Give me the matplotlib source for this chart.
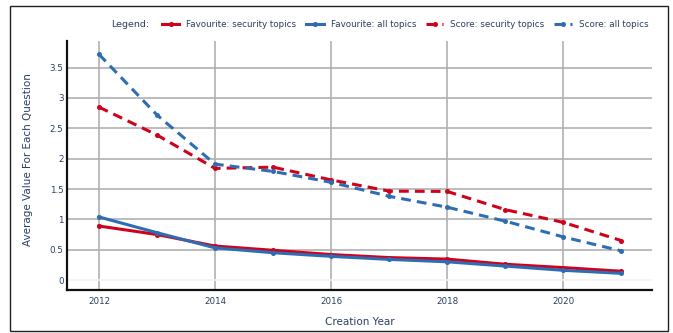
import matplotlib
matplotlib.use("Agg")
import matplotlib.pyplot as plt
from matplotlib.patches import Rectangle

years = [2012, 2013, 2014, 2015, 2016, 2017, 2018, 2019, 2020, 2021]
fav_security = [0.89, 0.75, 0.56, 0.49, 0.42, 0.37, 0.345, 0.26, 0.205, 0.145]
fav_all = [1.04, 0.78, 0.53, 0.45, 0.39, 0.34, 0.30, 0.23, 0.16, 0.11]
score_security = [2.85, 2.39, 1.84, 1.86, 1.65, 1.465, 1.46, 1.16, 0.95, 0.65]
score_all = [3.72, 2.72, 1.91, 1.79, 1.61, 1.38, 1.20, 0.97, 0.71, 0.48]

series_labels = ["Favourite: security topics", "Favourite: all topics",
                 "Score: security topics", "Score: all topics"]
x_ticks = [2012, 2014, 2016, 2018, 2020]
y_ticks = [0, 0.5, 1, 1.5, 2, 2.5, 3, 3.5]
y_tick_labels = ["0", "0.5", "1", "1.5", "2", "2.5", "3", "3.5"]

RED = "#d0021b"
BLUE = "#2e6db4"
TEXT = "#2a3f5f"

plt.rcParams["font.family"] = ["DejaVu Sans"]

fig = plt.figure(figsize=(6.73, 3.33), dpi=100)
ax = fig.add_axes([0.0996, 0.129, 0.8694, 0.748])

# outer frame around the whole figure
fig.patches.append(Rectangle((0.0156, 0.007), 0.9777, 0.975, transform=fig.transFigure,
                             fill=False, edgecolor="#222222", linewidth=1.0))

lw = 2.2
ms = 2.6
dashes = (3.2, 2.0)
h1, = ax.plot(years, fav_security, color=RED, lw=lw, marker="o", ms=ms, label=series_labels[0])
h2, = ax.plot(years, fav_all, color=BLUE, lw=lw, marker="o", ms=ms, label=series_labels[1])
h3, = ax.plot(years, score_security, color=RED, lw=lw, marker="o", ms=ms,
              dashes=dashes, label=series_labels[2])
h4, = ax.plot(years, score_all, color=BLUE, lw=lw, marker="o", ms=ms,
              dashes=dashes, label=series_labels[3])

ax.set_xlim(2011.45, 2021.53)
ax.set_ylim(-0.165, 3.94)
ax.set_xticks(x_ticks)
ax.set_xticklabels([str(t) for t in x_ticks])
ax.set_yticks(y_ticks)
ax.set_yticklabels(y_tick_labels)
ax.tick_params(length=0, labelsize=6.3, colors=TEXT)
ax.tick_params(axis="y", pad=2.5)
ax.tick_params(axis="x", pad=5)

ax.grid(True, color="#b0b0b0", linewidth=1.2)
ax.set_axisbelow(True)
ax.get_ygridlines()[0].set_color("#f2f2f2")

for side in ("top", "right"):
    ax.spines[side].set_visible(False)
for side in ("left", "bottom"):
    ax.spines[side].set_color("#111111")
    ax.spines[side].set_linewidth(1.6)

ax.set_xlabel("Creation Year", fontsize=7.5, color=TEXT, labelpad=8)
ax.set_ylabel("Average Value For Each Question", fontsize=7.5, color=TEXT, labelpad=12)
ax.yaxis.label.set_y(0.522)

fig.text(0.165, 0.926, "Legend:", fontsize=6.8, color=TEXT, va="center", ha="left")
fig.legend(handles=[h1, h2, h3, h4], loc="center left", bbox_to_anchor=(0.2407, 0.926),
           ncol=4, frameon=False, fontsize=6.3, handlelength=2.0, handletextpad=0.8,
           columnspacing=1.1, labelcolor=TEXT, borderaxespad=0, borderpad=0)

fig.savefig("out.png", dpi=100)
